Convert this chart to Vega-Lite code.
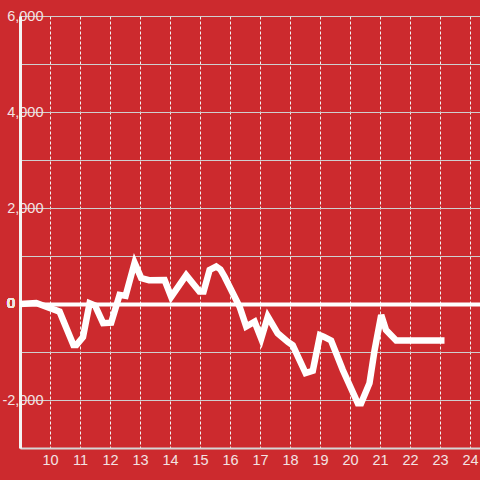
{
  "$schema": "https://vega.github.io/schema/vega-lite/v6.json",
  "autosize": "none",
  "padding": {"left": 20, "top": 16, "right": 0, "bottom": 32},
  "width": 460,
  "height": 432,
  "background": "#cc2a2e",
  "config": {
    "view": {"stroke": null},
    "axisX": {
      "title": null,
      "labelExpr": "datum.value < 9.5 ? '' : format(datum.value, 'd')",
      "tickCount": 16,
      "grid": true,
      "gridColor": "#f2f2f2",
      "gridWidth": 1,
      "gridDash": [3, 2],
      "gridOpacity": 1,
      "domain": true,
      "domainColor": "#d6d6d6",
      "domainWidth": 2,
      "ticks": false,
      "labelPadding": 5,
      "labelFont": "Liberation Sans",
      "labelFontSize": 14.5,
      "labelColor": "#f3e3e3",
      "labelFlush": false,
      "labelOverlap": false
    },
    "axisY": {
      "title": null,
      "tickCount": 9,
      "labelExpr": "datum.value != 0 && datum.value % 2000 == 0 ? replace(format(datum.value, ','), '\u2212', '-') : ''",
      "grid": true,
      "gridColor": {"condition": {"test": "datum.value == 0", "value": "#ffffff"}, "value": "#cfcfcf"},
      "gridWidth": {"condition": {"test": "datum.value == 0", "value": 4}, "value": 1},
      "gridOpacity": 1,
      "domain": true,
      "domainColor": "#f4f4f4",
      "domainWidth": 3,
      "ticks": false,
      "labelPadding": -23,
      "labelFont": "Liberation Sans",
      "labelFontSize": 14.5,
      "labelColor": "#f3e3e3",
      "labelBaseline": "middle",
      "labelFlush": false,
      "labelOverlap": false,
      "zindex": 1
    }
  },
  "data": {"values": [
    {"x": 9, "y": 0},
    {"x": 9.54, "y": 20},
    {"x": 10.32, "y": -160},
    {"x": 10.78, "y": -854},
    {"x": 10.88, "y": -854},
    {"x": 11.1, "y": -690},
    {"x": 11.32, "y": 15},
    {"x": 11.5, "y": -30},
    {"x": 11.77, "y": -400},
    {"x": 12.04, "y": -390},
    {"x": 12.32, "y": 190},
    {"x": 12.52, "y": 170},
    {"x": 12.82, "y": 860},
    {"x": 13.04, "y": 540},
    {"x": 13.3, "y": 495},
    {"x": 13.82, "y": 500},
    {"x": 14.04, "y": 150},
    {"x": 14.54, "y": 600},
    {"x": 14.98, "y": 260},
    {"x": 15.12, "y": 260},
    {"x": 15.32, "y": 710},
    {"x": 15.54, "y": 780},
    {"x": 15.68, "y": 720},
    {"x": 15.82, "y": 569},
    {"x": 16.32, "y": -56},
    {"x": 16.54, "y": -470},
    {"x": 16.82, "y": -370},
    {"x": 17.04, "y": -720},
    {"x": 17.26, "y": -260},
    {"x": 17.59, "y": -610},
    {"x": 17.93, "y": -790},
    {"x": 18.09, "y": -860},
    {"x": 18.52, "y": -1440},
    {"x": 18.76, "y": -1390},
    {"x": 19.0, "y": -650},
    {"x": 19.12, "y": -680},
    {"x": 19.37, "y": -760},
    {"x": 19.76, "y": -1375},
    {"x": 20.26, "y": -2070},
    {"x": 20.37, "y": -2070},
    {"x": 20.65, "y": -1650},
    {"x": 20.82, "y": -960},
    {"x": 21.04, "y": -230},
    {"x": 21.2, "y": -540},
    {"x": 21.54, "y": -760},
    {"x": 23.15, "y": -760}
  ]},
  "layer": [
    {
      "mark": {"type": "line", "color": "#ffffff", "strokeWidth": 6.5, "strokeJoin": "miter", "strokeCap": "butt", "clip": true},
      "encoding": {
        "x": {
          "field": "x", "type": "quantitative",
          "scale": {"domain": [9, 24.3333], "nice": false, "zero": false}
        },
        "y": {
          "field": "y", "type": "quantitative",
          "scale": {"domain": [-3000, 6000], "nice": false, "zero": false}
        }
      }
    },
    {
      "mark": {"type": "text", "text": "0", "align": "right", "baseline": "middle", "dx": -5, "font": "Liberation Sans", "fontSize": 14.5, "color": "#f3e3e3"},
      "encoding": {
        "x": {"datum": 9, "type": "quantitative"},
        "y": {"datum": 0, "type": "quantitative"}
      }
    }
  ]
}
